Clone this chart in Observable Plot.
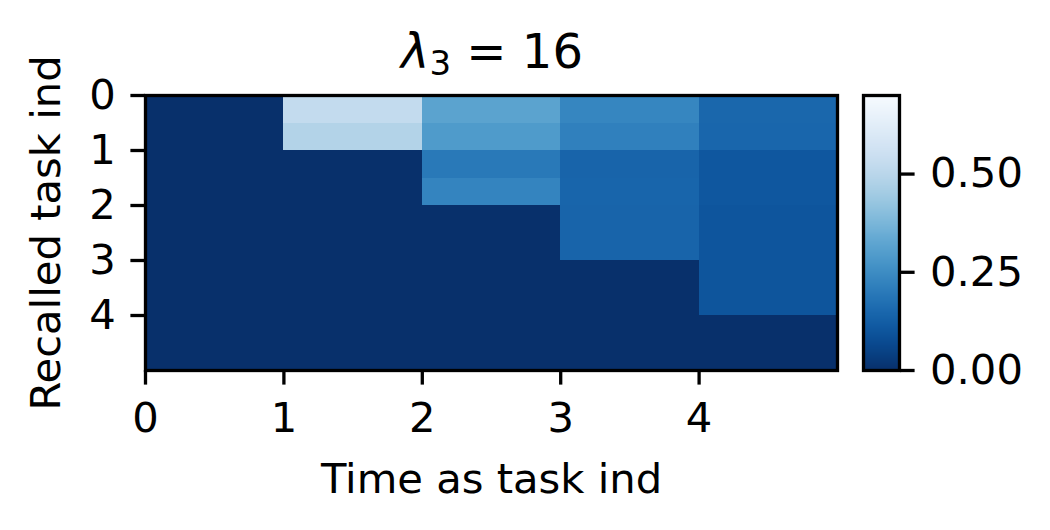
<!DOCTYPE html>
<html><head><meta charset="utf-8">
<script src="https://cdn.jsdelivr.net/npm/d3@7"></script>
<script src="https://cdn.jsdelivr.net/npm/@observablehq/plot@0.6"></script>
<style>
body{margin:0;background:#fff;}
#wrap{position:relative;width:1050px;height:530px;font-family:"DejaVu Sans";}
#wrap svg{position:absolute;top:0;left:0;}
</style></head><body><div id="wrap"></div>
<script>
// Data
const timeStarts = [0, 1, 2, 3, 4];               // task blocks along time
const recalledRows = [0, 0.5, 1, 1.5, 2, 2.5, 3, 3.5, 4, 4.5]; // half-unit rows
const valuesT0 = [0, 0, 0, 0, 0, 0, 0, 0, 0, 0];
const valuesT1 = [0.525, 0.485, 0, 0, 0, 0, 0, 0, 0, 0];
const valuesT2 = [0.315, 0.29, 0.195, 0.225, 0, 0, 0, 0, 0, 0];
const valuesT3 = [0.23, 0.215, 0.14, 0.142, 0.14, 0.14, 0, 0, 0, 0];
const valuesT4 = [0.147, 0.145, 0.105, 0.105, 0.1, 0.1, 0.098, 0.098, 0, 0];
const xTicks = [0, 1, 2, 3, 4];
const yTicks = [0, 1, 2, 3, 4];
const cbTicks = [0, 0.25, 0.5];
const colorMax = 0.70;
const xLabel = "Time as task ind";
const yLabel = "Recalled task ind";
const titleSymbol = "λ", titleSub = "3", titleRest = " = 16";

const columns = [valuesT0, valuesT1, valuesT2, valuesT3, valuesT4];
const cells = [];
columns.forEach((col, i) => col.forEach((v, j) => cells.push({
  x1: timeStarts[i], x2: timeStarts[i] + 1, y1: recalledRows[j], y2: recalledRows[j] + 0.5, v
})));

const FS = 41.7;
const colorOpts = {type: "linear", domain: [0, colorMax], scheme: "blues", reverse: true};

const main = Plot.plot({
  width: 1050, height: 530,
  marginLeft: 145, marginRight: 213, marginTop: 95, marginBottom: 160,
  style: {fontFamily: "DejaVu Sans", fontSize: FS + "px", color: "black", background: "transparent", overflow: "visible"},
  x: {domain: [0, 5]},
  y: {domain: [0, 5], reverse: true},
  color: colorOpts,
  marks: [
    Plot.rect(cells, {x1: "x1", x2: "x2", y1: "y1", y2: "y2", fill: "v", shapeRendering: "crispEdges"}),
    Plot.frame({stroke: "black", strokeWidth: 3.3}),
    Plot.axisX({ticks: xTicks, tickSize: 14.6, tickPadding: 17, strokeWidth: 3.3, fontSize: FS, label: null, tickFormat: d => String(d)}),
    Plot.axisY({ticks: yTicks, tickSize: 14.6, tickPadding: 15, strokeWidth: 3.3, fontSize: FS, label: null, tickFormat: d => String(d)}),
    Plot.text([xLabel], {text: d => d, frameAnchor: "bottom", textAnchor: "middle", lineAnchor: "middle", dy: 108.7, fontSize: FS}),
    Plot.text([yLabel], {text: d => d, frameAnchor: "left", textAnchor: "middle", lineAnchor: "middle", dx: -99, rotate: -90, fontSize: FS})
  ]
});

const step = colorMax / 276;
const ramp = d3.range(0, 276).map(i => i * step);
const cb = Plot.plot({
  width: 210, height: 530,
  marginLeft: 23, marginRight: 151, marginTop: 95, marginBottom: 160,
  style: {fontFamily: "DejaVu Sans", fontSize: FS + "px", color: "black", background: "transparent", overflow: "visible"},
  x: {domain: [0, 1], axis: null},
  y: {domain: [0, colorMax]},
  color: colorOpts,
  marks: [
    Plot.rect(ramp, {x1: 0, x2: 1, y1: d => d, y2: d => d + step, fill: d => d + step / 2, shapeRendering: "crispEdges"}),
    Plot.frame({stroke: "black", strokeWidth: 3.3}),
    Plot.axisY({anchor: "right", ticks: cbTicks, tickFormat: d3.format(".2f"), tickSize: 14.6, tickPadding: 16, strokeWidth: 3.3, fontSize: FS, label: null})
  ]
});

const wrap = document.getElementById("wrap");
wrap.appendChild(main);
wrap.appendChild(cb);
cb.style.left = "840px";

const t = d3.select(main).append("text")
  .attr("x", 492).attr("y", 68).attr("text-anchor", "middle")
  .attr("fill", "black")
  .style("font-family", "DejaVu Sans").style("font-size", "48px");
t.append("tspan").style("font-style", "italic").text(titleSymbol);
t.append("tspan").attr("dy", 7).style("font-size", "34px").text(titleSub);
t.append("tspan").attr("dy", -7).text(titleRest);
</script></body></html>
